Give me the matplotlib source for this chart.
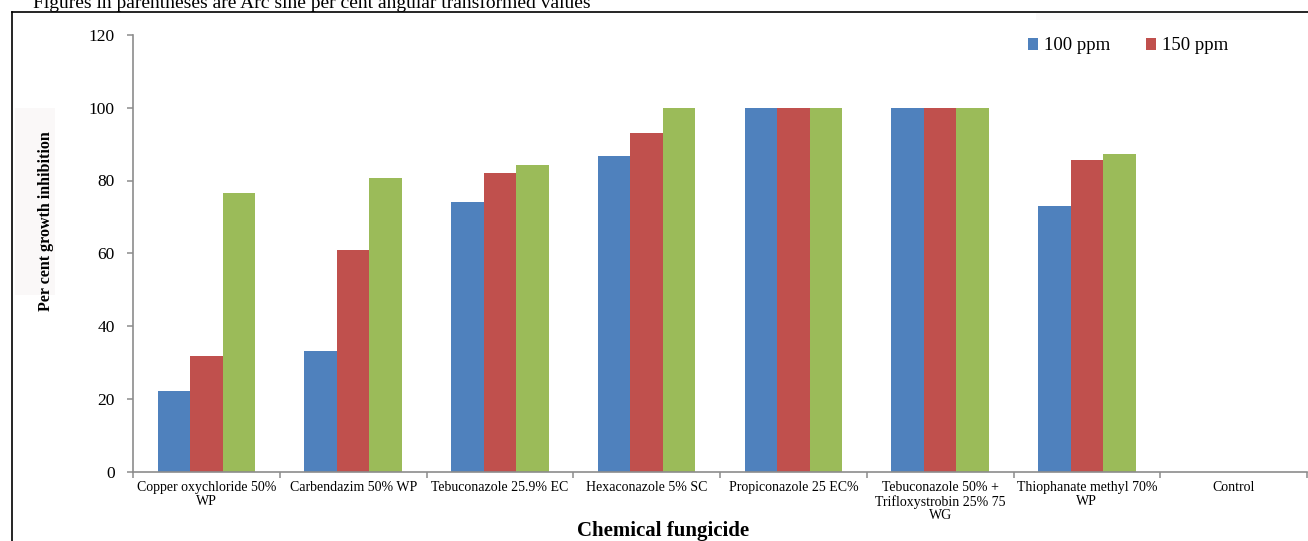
import matplotlib
matplotlib.use("Agg")
import matplotlib.pyplot as plt
from matplotlib.patches import Rectangle
from matplotlib.lines import Line2D
import numpy as np

categories = [
    "Copper oxychloride 50%\nWP",
    "Carbendazim 50% WP",
    "Tebuconazole 25.9% EC",
    "Hexaconazole 5% SC",
    "Propiconazole 25 EC%",
    "Tebuconazole 50% +\nTrifloxystrobin 25% 75\nWG",
    "Thiophanate methyl 70%\nWP",
    "Control",
]
series_labels = ["100 ppm", "150 ppm"]
vals_100 = [22.2, 33.2, 74.2, 86.8, 100, 100, 73.0, 0]
vals_150 = [31.8, 61.0, 82.0, 93.1, 100, 100, 85.5, 0]
vals_third = [76.6, 80.6, 84.3, 100, 100, 100, 87.2, 0]
yticks = [0, 20, 40, 60, 80, 100, 120]

colors = ["#4F81BD", "#C0504D", "#9BBB59"]
serif = ["Liberation Serif", "DejaVu Serif"]
plt.rcParams["font.family"] = serif

W, H = 1308, 541
fig = plt.figure(figsize=(W / 100, H / 100), dpi=100)
ax = fig.add_axes([133 / W, 1 - 471.5 / H, (1307 - 133) / W, (471.5 - 35) / H])

x = np.arange(len(categories))
bw = 0.221
h1 = ax.bar(x - bw, vals_100, bw, color=colors[0], label=series_labels[0], zorder=2)
h2 = ax.bar(x, vals_150, bw, color=colors[1], label=series_labels[1], zorder=2)
ax.bar(x + bw, vals_third, bw, color=colors[2], zorder=2)

ax.set_xlim(-0.5, len(categories) - 0.5)
ax.set_ylim(0, 120)
ax.set_yticks(yticks)
ax.set_yticklabels([str(t) for t in yticks], fontsize=12.5)

ax.set_xticks(np.arange(len(categories) + 1) - 0.5)
ax.set_xticklabels([])
ax.set_xticks(x, minor=True)
ax.set_xticklabels(categories, minor=True, fontsize=10, linespacing=1.05)
ax.tick_params(axis="x", which="minor", length=0, pad=7)
ax.tick_params(axis="x", which="major", length=4, width=1.1, color="#8c8c8c", direction="out")
ax.tick_params(axis="y", length=4, width=1.1, color="#8c8c8c", direction="out", pad=9)

for s in ["top", "right"]:
    ax.spines[s].set_visible(False)
for s in ["left", "bottom"]:
    ax.spines[s].set_color("#8c8c8c")
    ax.spines[s].set_linewidth(1.2)

# faint background patches
fig.patches.append(Rectangle((15 / W, 1 - 295 / H), 40 / W, 187 / H, transform=fig.transFigure,
                             facecolor="#faf8f8", edgecolor="none", zorder=0))
fig.patches.append(Rectangle((1036 / W, 1 - 20 / H), 234 / W, 7 / H, transform=fig.transFigure,
                             facecolor="#faf9f9", edgecolor="none", zorder=0))

# border lines
fig.add_artist(Line2D([12 / W, 1.0], [1 - 12 / H, 1 - 12 / H], transform=fig.transFigure,
                      color="black", linewidth=1.2))
fig.add_artist(Line2D([12 / W, 12 / W], [1 - 12 / H, 0], transform=fig.transFigure,
                      color="black", linewidth=1.2))

fig.text(33 / W, 1 - 7.5 / H, "Figures in parentheses are Arc sine per cent angular transformed values",
         fontsize=14, ha="left", va="baseline")

fig.text(663 / W, 1 - 531 / H, "Chemical fungicide", fontsize=15, fontweight="bold",
         ha="center", va="center")
fig.text(46 / W, 1 - 221 / H, "Per cent growth inhibition", fontsize=11.5, fontweight="bold",
         rotation=90, ha="center", va="center")

fig.legend(handles=[h1, h2], labels=series_labels, loc="center left",
           bbox_to_anchor=(1028 / W, 1 - 46 / H), ncol=2, frameon=False, fontsize=13.5,
           handlelength=0.55, handleheight=0.55, handletextpad=0.3, columnspacing=1.9,
           borderpad=0, borderaxespad=0)

fig.savefig("out.png", dpi=100)
